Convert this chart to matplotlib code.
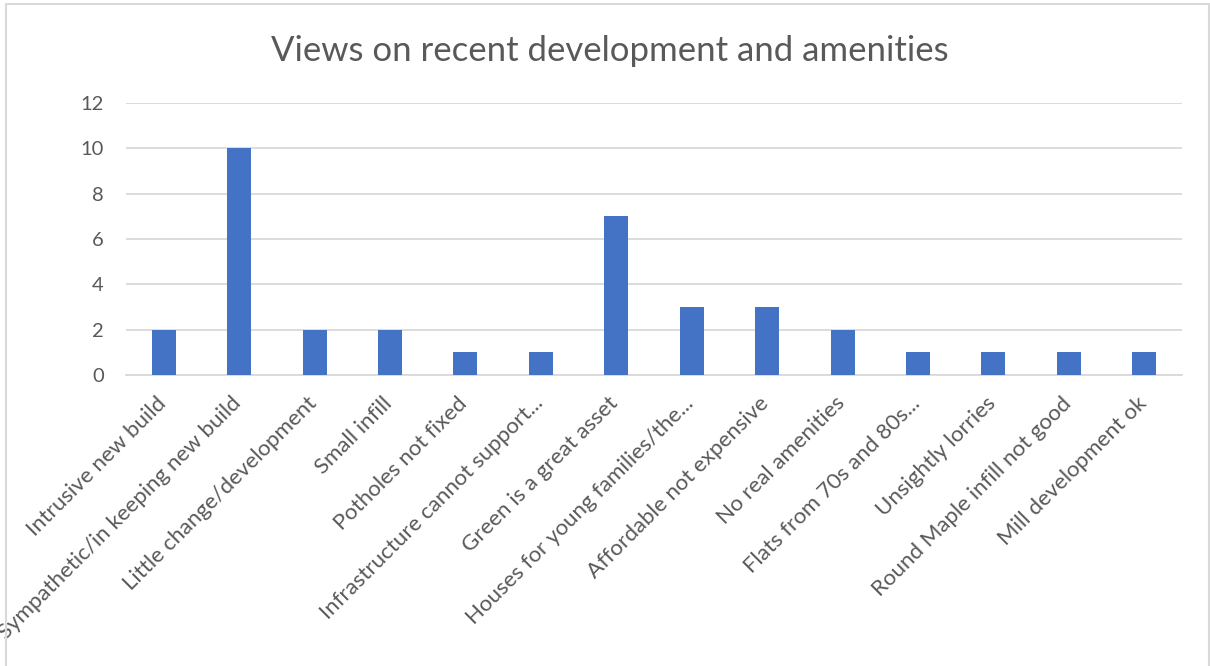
import matplotlib
matplotlib.use("Agg")
import matplotlib.pyplot as plt
import matplotlib.transforms as mtransforms
from matplotlib.patches import Rectangle

categories = [
    "Intrusive new build",
    "Sympathetic/in keeping new build",
    "Little change/development",
    "Small infill",
    "Potholes not fixed",
    "Infrastructure cannot support...",
    "Green is a great asset",
    "Houses for young families/the...",
    "Affordable not expensive",
    "No real amenities",
    "Flats from 70s and 80s...",
    "Unsightly lorries",
    "Round Maple infill not good",
    "Mill development ok",
]
counts = [2, 10, 2, 2, 1, 1, 7, 3, 3, 2, 1, 1, 1, 1]
y_ticks = [0, 2, 4, 6, 8, 10, 12]

TEXT = "#595959"
GRID = "#D9D9D9"
BLUE = "#4472C4"

plt.rcParams["font.family"] = ["Lato", "DejaVu Sans"]

fig = plt.figure(figsize=(12.1, 6.66), dpi=100)
ax = fig.add_axes([126 / 1210, 1 - 375 / 666, 1056 / 1210, 272 / 666])

x = list(range(len(categories)))
ax.bar(x, counts, width=0.32, color=BLUE, zorder=3)

ax.set_xlim(-0.5, len(categories) - 0.5)
ax.set_ylim(0, 12)
ax.set_yticks(y_ticks)
ax.yaxis.grid(True, color=GRID, linewidth=1.3, zorder=0)
ax.set_axisbelow(True)
for side in ["left", "right", "top"]:
    ax.spines[side].set_visible(False)
ax.spines["bottom"].set_color(GRID)
ax.spines["bottom"].set_linewidth(1.3)
ax.tick_params(axis="both", length=0, colors=TEXT, labelsize=14.5)
ax.tick_params(axis="y", pad=16)
ax.tick_params(axis="x", pad=13)

ax.set_xticks(x)
ax.set_xticklabels(categories, rotation=45, ha="right", va="top",
                   rotation_mode="default", fontsize=16, color=TEXT)
# nudge labels a few pixels right, like the original
shift = mtransforms.ScaledTranslation(6 / 100, 0, fig.dpi_scale_trans)
for lab in ax.get_xticklabels():
    lab.set_transform(lab.get_transform() + shift)

fig.text(0.504, 1 - 51 / 666, "Views on recent development and amenities",
         ha="center", va="center", fontsize=25, color=TEXT)

# chart frame
fig.add_artist(Rectangle((6 / 1210, -0.05), 1203 / 1210, 1.05 - 4 / 666,
                         transform=fig.transFigure, fill=False,
                         edgecolor=GRID, linewidth=1.5))

fig.savefig("out.png", dpi=100)
